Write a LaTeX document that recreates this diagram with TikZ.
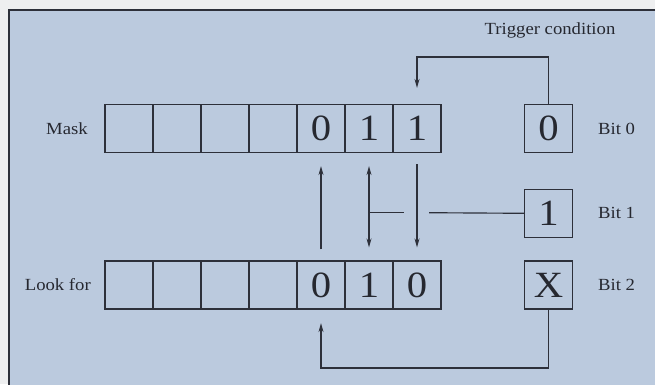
\documentclass[tikz,border=0pt]{standalone}
\usepackage{fontspec}
\setmainfont{Liberation Serif}[FakeStretch=1.1]
\usetikzlibrary{arrows.meta}
\definecolor{bgblue}{RGB}{187,202,222}
\definecolor{linec}{RGB}{45,48,58}
\definecolor{textc}{RGB}{38,40,48}
\definecolor{outer}{RGB}{238,239,240}
\begin{document}
\begin{tikzpicture}[x=1pt,y=-1pt,
  cell/.style={draw=linec, line width=1.2pt, minimum width=48pt, minimum height=48pt,
    inner sep=0pt, text=textc, font=\fontsize{37}{40}\selectfont},
  lbl/.style={text=textc, inner sep=0pt, font=\fontsize{17}{20}\selectfont},
  conn/.style={draw=linec, line width=1.15pt},
  arr/.style={conn, -{Stealth[length=9pt,width=5pt]}},
  darr/.style={conn, {Stealth[length=9pt,width=5pt]}-{Stealth[length=9pt,width=5pt]}}]
\useasboundingbox (0,0) rectangle (655,384);
\clip (0,0) rectangle (655,384);
\fill[outer] (0,0) rectangle (655,384);
\draw[fill=bgblue, draw=linec, line width=1.3pt] (9,10) rectangle (680,410);
% Mask register
\node[cell] (m1) at (129,128.5) {};
\node[cell] (m2) at (177,128.5) {};
\node[cell] (m3) at (225,128.5) {};
\node[cell] (m4) at (273,128.5) {};
\node[cell] (m5) at (321,128.5) {0};
\node[cell] (m6) at (369,128.5) {1};
\node[cell] (m7) at (417,128.5) {1};
% Look for register
\node[cell] (l1) at (129,285) {};
\node[cell] (l2) at (177,285) {};
\node[cell] (l3) at (225,285) {};
\node[cell] (l4) at (273,285) {};
\node[cell] (l5) at (321,285) {0};
\node[cell] (l6) at (369,285) {1};
\node[cell] (l7) at (417,285) {0};
% Trigger condition bits
\node[cell] (b0) at (548.5,128.5) {0};
\node[cell] (b1) at (548.5,213.3) {1};
\node[cell] (b2) at (548.5,285) {X};
% Labels
\node[lbl, anchor=east] (mask) at (88,128.5) {Mask};
\node[lbl, anchor=east] (look) at (91,285) {Look for};
\node[lbl, anchor=west] (bit0) at (598,128.5) {Bit 0};
\node[lbl, anchor=west] (bit1) at (598,213.3) {Bit 1};
\node[lbl, anchor=west] (bit2) at (598,285) {Bit 2};
\node[lbl] (trig) at (550,30) {Trigger condition};
% Coordinates
\coordinate (top) at (417,57);
\coordinate (bot) at (321,368);
\coordinate (j1) at (369,212.7);
\coordinate (j2) at (404,212.7);
\coordinate (j3) at (429,212.7);
% Connectors
\draw[arr] (b0.north) |- (top) -- ([yshift=16pt]m7.north);
\draw[arr] ([yshift=11pt]l5.north) -- ([yshift=-13pt]m5.south);
\draw[darr] ([yshift=-13pt]m6.south) -- ([yshift=13pt]l6.north);
\draw[arr] ([yshift=-11pt]m7.south) -- ([yshift=13pt]l7.north);
\draw[conn] (j1) -- (j2);
\draw[conn] (j3) -- (b1.west);
\draw[arr] (b2.south) |- (bot) -- ([yshift=-13.5pt]l5.south);
\end{tikzpicture}
\end{document}
